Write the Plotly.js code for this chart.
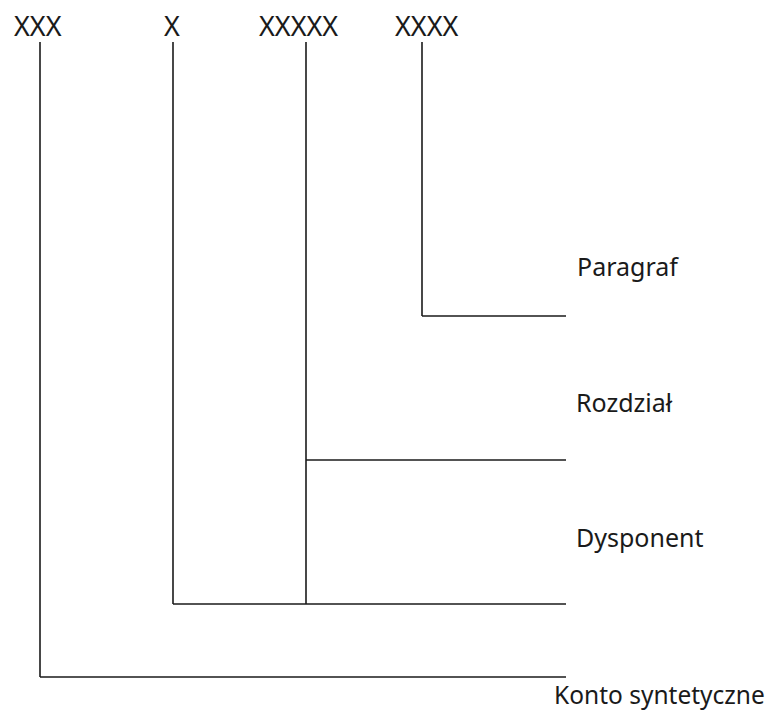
<!DOCTYPE html>
<html>
<head>
<meta charset="utf-8">
<script src="https://cdn.plot.ly/plotly-3.0.1.min.js"></script>
<style>html,body{margin:0;padding:0;background:#fff;}#chart{width:776px;height:711px;}</style>
</head>
<body>
<div id="chart"></div>
<script>
// Code segments at the top and where their stems sit
const codes = ['XXX', 'X', 'XXXXX', 'XXXX'];
const codeLabelX = [38, 172, 298, 426];
const stemX = [40, 173, 306, 422];
const stemTop = 42;
const stemBottom = [677, 604, 604, 316];
// Level each segment represents and the y of its branch line
const levels = ['Konto syntetyczne', 'Dysponent', 'Rozdział', 'Paragraf'];
const branchY = [677, 604, 460, 316];
const branchEnd = 566;
const levelLabelX = [552, 574, 574, 575];
const levelLabelY = [694, 537, 402, 266];

const lineStyle = {color: '#1a1a1a', width: 1.6};
const traces = [];
for (let i = 0; i < codes.length; i++) {
  traces.push({
    type: 'scatter', mode: 'lines', hoverinfo: 'skip', showlegend: false,
    x: [stemX[i], stemX[i]], y: [stemTop, stemBottom[i]], line: lineStyle
  });
  traces.push({
    type: 'scatter', mode: 'lines', hoverinfo: 'skip', showlegend: false,
    x: [stemX[i], branchEnd], y: [branchY[i], branchY[i]], line: lineStyle
  });
}

const annotations = [];
codes.forEach((c, i) => annotations.push({
  x: codeLabelX[i], y: 25, xref: 'x', yref: 'y', text: c, showarrow: false,
  xanchor: 'center', yanchor: 'middle',
  font: {family: 'Noto Sans, sans-serif', size: 27, color: '#1a1a1a'}
}));
levels.forEach((l, i) => annotations.push({
  x: levelLabelX[i], y: levelLabelY[i], xref: 'x', yref: 'y', text: l, showarrow: false,
  xanchor: 'left', yanchor: 'middle',
  font: {family: 'Noto Sans, sans-serif', size: i === 0 ? 24.5 : 25, color: '#1a1a1a'}
}));

const layout = {
  width: 776, height: 711,
  margin: {l: 0, r: 0, t: 0, b: 0},
  paper_bgcolor: '#fff', plot_bgcolor: '#fff',
  xaxis: {range: [0, 776], visible: false, fixedrange: true},
  yaxis: {range: [711, 0], visible: false, fixedrange: true},
  annotations: annotations,
  showlegend: false
};
Plotly.newPlot('chart', traces, layout, {displayModeBar: false, staticPlot: true});
</script>
</body>
</html>
